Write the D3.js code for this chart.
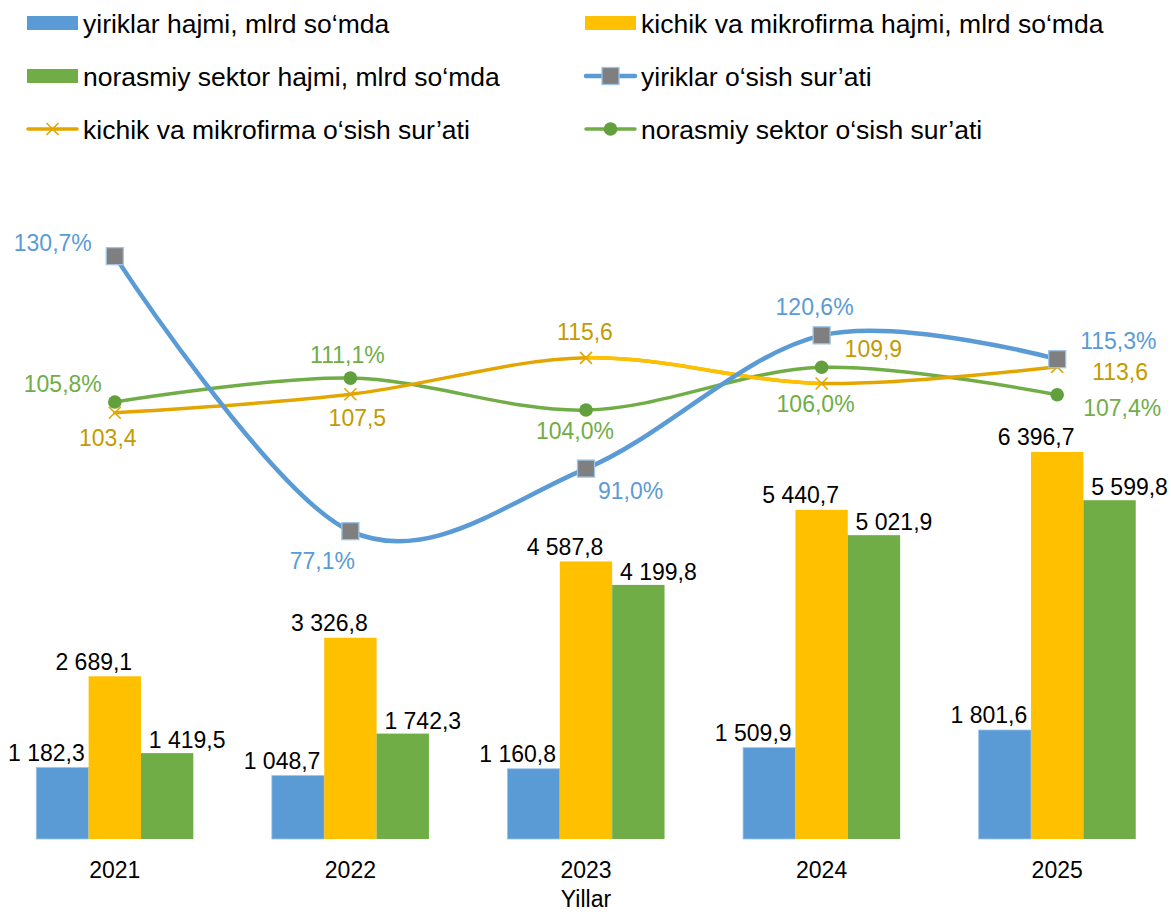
<!DOCTYPE html>
<html>
<head>
<meta charset="utf-8">
<script src="https://cdn.jsdelivr.net/npm/d3@7"></script>
<style>
    body { margin: 0; background: #fff; }
    svg { display: block; font-family: "Liberation Sans", Arial, sans-serif; }
</style>
</head>
<body>
<svg class="chart"></svg>
<script>
var years = ["2021", "2022", "2023", "2024", "2025"];

var barNames = ["yiriklar hajmi, mlrd so\u2018mda", "kichik va mikrofirma hajmi, mlrd so\u2018mda", "norasmiy sektor hajmi, mlrd so\u2018mda"];
var lineNames = ["yiriklar o\u2018sish sur\u2019ati", "kichik va mikrofirma o\u2018sish sur\u2019ati", "norasmiy sektor o\u2018sish sur\u2019ati"];

// bar values, mlrd so'm
var largeVolume = [1182.3, 1048.7, 1160.8, 1509.9, 1801.6];
var smallVolume = [2689.1, 3326.8, 4587.8, 5440.7, 6396.7];
var informalVolume = [1419.5, 1742.3, 4199.8, 5021.9, 5599.8];

// growth rates as plotted
var largeGrowth = [138.2, 77.1, 91.0, 120.6, 115.3];
var smallGrowth = [103.4, 107.5, 115.6, 109.9, 113.6];
var informalGrowth = [105.8, 111.1, 104.0, 113.5, 107.4];

// growth labels as printed on the chart
var largeGrowthLabels = ["130,7%", "77,1%", "91,0%", "120,6%", "115,3%"];
var smallGrowthLabels = ["103,4", "107,5", "115,6", "109,9", "113,6"];
var informalGrowthLabels = ["105,8%", "111,1%", "104,0%", "106,0%", "107,4%"];

function show() {

    'use strict';

    var width = 1171, height = 915;
    var plot = {left: -3, right: 1175, top: 113, bottom: 839};

    var barColors = ["#5B9BD5", "#FFC000", "#70AD47"];
    var gold = "#E3A600";

    var chart = d3.select(".chart")
        .attr("width", width)
        .attr("height", height);

    chart.append("rect")
        .attr("width", width)
        .attr("height", height)
        .attr("fill", "#fff");

    var fmt = d3.formatLocale({decimal: ",", thousands: " ", grouping: [3], currency: ["", ""]}).format(",.1f");

    var x = d3.scaleBand()
        .domain(years)
        .range([plot.left, plot.right])
        .paddingInner(1 / 3)
        .paddingOuter(1 / 6);

    var xSub = d3.scaleBand()
        .domain([0, 1, 2])
        .range([0, x.bandwidth()]);

    var y = d3.scaleLinear().domain([0, 12000]).range([plot.bottom, plot.top]);
    var y2 = d3.scaleLinear().domain([8.7, 170]).range([plot.bottom, plot.top]);

    function cx(d, i) { return x(years[i]) + x.bandwidth() / 2; }

    // ---- bars
    var barSeries = [largeVolume, smallVolume, informalVolume];
    var barLabelDx = [-16, -21, 20];
    var barLabelDy = [-15, -15, -13];

    barSeries.forEach(function(values, s) {
        var g = chart.append("g").attr("class", "bars");

        g.selectAll("rect")
            .data(values)
            .enter().append("rect")
            .attr("x", function(d, i) { return x(years[i]) + xSub(s); })
            .attr("y", function(d) { return y(d); })
            .attr("width", xSub.bandwidth())
            .attr("height", function(d) { return y(0) - y(d); })
            .attr("fill", barColors[s])
            .attr("stroke", s === 0 ? "#9DC3E6" : "none")
            .attr("stroke-width", 0.8);

        g.selectAll("text")
            .data(values)
            .enter().append("text")
            .attr("x", function(d, i) { return x(years[i]) + xSub(s) + xSub.bandwidth() / 2 + barLabelDx[s]; })
            .attr("y", function(d) { return y(d) + barLabelDy[s]; })
            .attr("dy", "0.36em")
            .attr("text-anchor", "middle")
            .style("font-size", "23px")
            .attr("fill", "#000")
            .text(function(d) { return fmt(d); });
    });

    // ---- x axis
    var axis = chart.append("g")
        .attr("transform", "translate(0," + plot.bottom + ")")
        .call(d3.axisBottom(x).tickSize(0).tickPadding(23));
    axis.select(".domain").remove();
    axis.selectAll("text")
        .style("font-size", "23px")
        .style("font-family", "'Liberation Sans', Arial, sans-serif")
        .attr("fill", "#000");

    chart.append("text")
        .attr("x", (plot.left + plot.right) / 2)
        .attr("y", 899)
        .attr("dy", "0.36em")
        .attr("text-anchor", "middle")
        .style("font-size", "23px")
        .text("Yillar");

    // ---- lines
    var line = d3.line()
        .x(cx)
        .y(function(d) { return y2(d); })
        .curve(d3.curveCardinal.tension(0));

    chart.append("defs").append("clipPath")
        .attr("id", "seg2324")
        .append("rect")
        .attr("x", cx(null, 2))
        .attr("y", 0)
        .attr("width", cx(null, 3) - cx(null, 2))
        .attr("height", height);

    // green
    chart.append("path")
        .attr("d", line(informalGrowth))
        .attr("fill", "none")
        .attr("stroke", "#70AD47")
        .attr("stroke-width", 3.5)
        .attr("stroke-linecap", "round");

    // orange
    chart.append("path")
        .attr("d", line(smallGrowth))
        .attr("fill", "none")
        .attr("stroke", gold)
        .attr("stroke-width", 3.5)
        .attr("stroke-linecap", "round");
    chart.append("path")
        .attr("d", line(smallGrowth))
        .attr("clip-path", "url(#seg2324)")
        .attr("fill", "none")
        .attr("stroke", "#FFC000")
        .attr("stroke-width", 3.5);

    // blue
    chart.append("path")
        .attr("d", line(largeGrowth))
        .attr("fill", "none")
        .attr("stroke", "#5B9BD5")
        .attr("stroke-width", 4.5)
        .attr("stroke-linecap", "round");

    function squareMarker(sel) {
        sel.append("rect")
            .attr("x", -8.5).attr("y", -8.5)
            .attr("width", 17).attr("height", 17)
            .attr("fill", "#7F7F7F")
            .attr("stroke", "#9DC3E6")
            .attr("stroke-width", 1.3);
    }
    function circleMarker(sel) {
        sel.append("circle")
            .attr("r", 6.8)
            .attr("fill", "#62A03E");
    }
    function crossMarker(sel) {
        sel.append("path")
            .attr("d", "M-6,-6L6,6M-6,6L6,-6")
            .attr("stroke", gold)
            .attr("stroke-width", 1.6)
            .attr("fill", "none");
    }

    function markers(values, draw) {
        chart.append("g").selectAll("g")
            .data(values)
            .enter().append("g")
            .attr("transform", function(d, i) { return "translate(" + cx(d, i) + "," + y2(d) + ")"; })
            .call(draw);
    }
    markers(informalGrowth, circleMarker);
    markers(smallGrowth, crossMarker);
    markers(largeGrowth, squareMarker);

    // label placement: [dx, dy, anchor] relative to each marker
    var largePlace = [[-23, -13, "end"], [-28, 30, "middle"], [12, 22, "start"], [-7, -29, "middle"], [23, -18, "start"]];
    var smallPlace = [[-7, 25, "middle"], [7, 23, "middle"], [-1, -26, "middle"], [23, -35, "start"], [35, 5, "start"]];
    var informalPlace = [[-13, -18, "end"], [-3, -23, "middle"], [-11, 21, "middle"], [-6, 36, "middle"], [26, 13, "start"]];

    function lineLabels(values, labels, place, color) {
        chart.append("g").selectAll("text")
            .data(values)
            .enter().append("text")
            .attr("x", function(d, i) { return cx(d, i) + place[i][0]; })
            .attr("y", function(d, i) { return y2(d) + place[i][1]; })
            .attr("dy", "0.36em")
            .attr("text-anchor", function(d, i) { return place[i][2]; })
            .style("font-size", "23px")
            .attr("fill", color)
            .text(function(d, i) { return labels[i]; });
    }
    lineLabels(largeGrowth, largeGrowthLabels, largePlace, "#5B9BD5");
    lineLabels(smallGrowth, smallGrowthLabels, smallPlace, "#C49A00");
    lineLabels(informalGrowth, informalGrowthLabels, informalPlace, "#70AD47");

    // ---- legend
    var legendItems = [
        {name: barNames[0], type: "bar", color: barColors[0]},
        {name: barNames[1], type: "bar", color: barColors[1]},
        {name: barNames[2], type: "bar", color: barColors[2]},
        {name: lineNames[0], type: "line", color: "#5B9BD5", marker: squareMarker, w: 4.5},
        {name: lineNames[1], type: "line", color: gold, marker: crossMarker, w: 3.5},
        {name: lineNames[2], type: "line", color: "#70AD47", marker: circleMarker, w: 3.5}
    ];
    var colX = [27, 585], rowY = [23, 76, 129];

    var legend = chart.append("g").attr("class", "legend");
    legendItems.forEach(function(item, i) {
        var lx = colX[i % 2], ly = rowY[Math.floor(i / 2)];
        var g = legend.append("g").attr("transform", "translate(" + lx + "," + ly + ")");
        if (item.type === "bar") {
            g.append("rect")
                .attr("x", 0).attr("y", -7)
                .attr("width", 51).attr("height", 14)
                .attr("fill", item.color);
        } else {
            g.append("line")
                .attr("x1", 1).attr("x2", 50)
                .attr("stroke", item.color)
                .attr("stroke-width", item.w)
                .attr("stroke-linecap", "round");
            g.append("g").attr("transform", "translate(25.5,0)").call(item.marker);
        }
        g.append("text")
            .attr("x", 56)
            .attr("dy", "0.36em")
            .style("font-size", "26.5px")
            .attr("fill", "#000")
            .text(item.name);
    });
}

show();
</script>
</body>
</html>
